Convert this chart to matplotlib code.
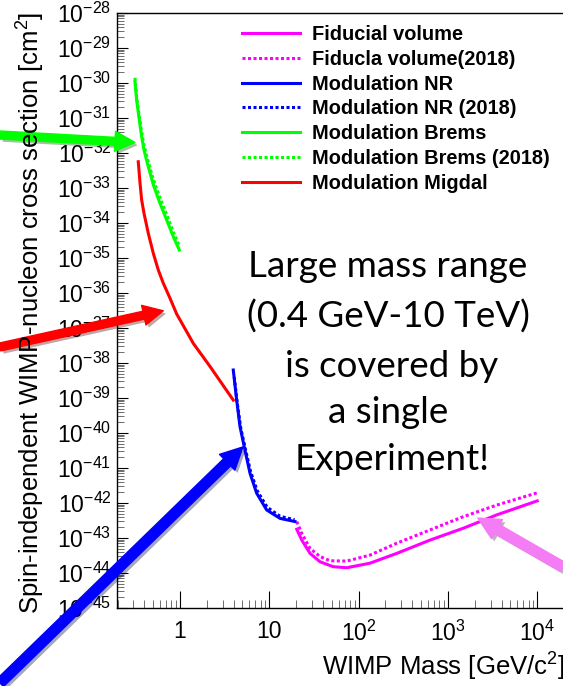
import matplotlib
matplotlib.use("Agg")
import matplotlib.pyplot as plt
import matplotlib.ticker as mticker
import matplotlib.patheffects as pe
import numpy as np

plt.rcParams['font.family'] = ['Liberation Sans', 'DejaVu Sans']
plt.rcParams['mathtext.fontset'] = 'custom'
plt.rcParams['mathtext.rm'] = 'Liberation Sans'
plt.rcParams['mathtext.it'] = 'Liberation Sans:italic'
plt.rcParams['mathtext.bf'] = 'Liberation Sans:bold'

# Exclusion limits: WIMP mass [GeV/c^2] vs log10 of cross section [cm^2]
brems_mass = [0.313, 0.327, 0.350, 0.372, 0.395, 0.441, 0.503, 0.597, 0.709, 0.841, 0.982]
brems_logxs = [-29.96, -30.49, -31.06, -31.53, -31.91, -32.39, -32.91, -33.44, -33.91, -34.39, -34.77]
brems18_mass = [0.313, 0.327, 0.350, 0.372, 0.395, 0.441, 0.503, 0.597, 0.709, 0.841, 0.995]
brems18_logxs = [-29.85, -30.40, -30.95, -31.40, -31.78, -32.25, -32.76, -33.28, -33.76, -34.26, -34.68]

migdal_mass = [0.341, 0.357, 0.372, 0.395, 0.441, 0.503, 0.571, 0.650, 0.773, 0.918, 1.41, 2.17, 3.95]
migdal_logxs = [-32.25, -32.87, -33.34, -33.72, -34.29, -34.87, -35.34, -35.72, -36.15, -36.60, -37.44, -38.10, -39.06]

nr_mass = [3.95, 4.31, 4.70, 5.34, 6.08, 7.22, 9.35, 13.2, 19.4]
nr_logxs = [-38.20, -39.06, -39.82, -40.49, -41.15, -41.72, -42.20, -42.44, -42.53]
nr18_mass = [4.05, 4.38, 4.78, 5.42, 6.17, 7.32, 9.45, 13.2, 19.2]
nr18_logxs = [-38.40, -39.15, -39.85, -40.48, -41.10, -41.65, -42.12, -42.38, -42.48]

fid_mass = [20.3, 23.1, 28.6, 37.0, 52.0, 73.5, 134, 267, 630, 1490, 3520, 10000]
fid_logxs = [-42.75, -43.06, -43.44, -43.68, -43.82, -43.85, -43.72, -43.44, -43.06, -42.72, -42.34, -41.94]
fid18_mass = [20.3, 23.1, 28.6, 37.0, 47.9, 73.5, 134, 267, 630, 1490, 3520, 10000]
fid18_logxs = [-42.53, -42.87, -43.30, -43.53, -43.65, -43.66, -43.49, -43.15, -42.77, -42.39, -42.06, -41.71]

fig = plt.figure(figsize=(5.63, 6.86), dpi=100)
W, H = 563.0, 686.0
# right spine sits past the figure edge
ax = fig.add_axes([117 / W, (H - 608) / H, (600 - 117) / W, (608 - 13) / H])

xmin = 10 ** ((117 - 180) / 89.3)
xmax = 10 ** ((600 - 180) / 89.3)

lw = 2.2
dot = (0, (1, 0.8))
series = [
    (fid_mass, fid_logxs, '#ff00ff', '-', 'Fiducial volume'),
    (fid18_mass, fid18_logxs, '#ff00ff', dot, 'Fiducla volume(2018)'),
    (nr_mass, nr_logxs, '#0000ff', '-', 'Modulation NR'),
    (nr18_mass, nr18_logxs, '#0000ff', dot, 'Modulation NR (2018)'),
    (brems_mass, brems_logxs, '#00ff00', '-', 'Modulation Brems'),
    (brems18_mass, brems18_logxs, '#00ff00', dot, 'Modulation Brems (2018)'),
    (migdal_mass, migdal_logxs, '#ff0000', '-', 'Modulation Migdal'),
]
for m, lx, c, ls, lab in series:
    ax.plot(m, 10.0 ** np.array(lx), color=c, linestyle=ls, lw=lw, label=lab)

ax.set_xscale('log')
ax.set_yscale('log')
ax.set_xlim(xmin, xmax)
ax.set_ylim(1e-45, 1e-28)

ax.spines['right'].set_visible(False)

def xfmt(v, pos):
    e = int(round(np.log10(v)))
    if e == 0:
        return '1'
    if e == 1:
        return '10'
    return r'$\mathrm{10^{%d}}$' % e

def yfmt(v, pos):
    e = int(round(np.log10(v)))
    return r'$\mathrm{10^{%d}}$' % e

ax.xaxis.set_major_locator(mticker.LogLocator(base=10, numticks=20))
ax.xaxis.set_minor_locator(mticker.LogLocator(base=10, subs=np.arange(2, 10), numticks=20))
ax.xaxis.set_major_formatter(mticker.FuncFormatter(xfmt))
ax.xaxis.set_minor_formatter(mticker.NullFormatter())
ax.yaxis.set_major_locator(mticker.LogLocator(base=10, numticks=30))
ax.yaxis.set_minor_locator(mticker.LogLocator(base=10, subs=np.arange(2, 10), numticks=30))
ax.yaxis.set_major_formatter(mticker.FuncFormatter(yfmt))
ax.yaxis.set_minor_formatter(mticker.NullFormatter())

ax.tick_params(axis='both', which='both', direction='in', top=False, right=False)
ax.tick_params(axis='x', which='major', length=12, width=0.8, labelsize=16.5, pad=9)
ax.tick_params(axis='x', which='minor', length=6, width=0.6, color='#555555')
ax.tick_params(axis='y', which='major', length=8, width=0.8, labelsize=16.5, pad=4)
ax.tick_params(axis='y', which='minor', length=5, width=0.6, color='#555555')
for s in ax.spines.values():
    s.set_linewidth(1.0)

fig.text(31 / W, 1 - 313 / H, r'Spin-independent WIMP-nucleon cross section [cm$^{2}$]',
         rotation=90, ha='center', va='center', fontsize=18.5)
fig.text(565 / W, 1 - 667 / H, r'WIMP Mass [GeV/c$^{2}$]',
         ha='right', va='center', fontsize=18.5)

leg = ax.legend(loc='upper left', bbox_to_anchor=(242 / W, 1 - 25 / H),
                bbox_transform=fig.transFigure, frameon=False,
                prop={'family': 'Liberation Sans', 'weight': 'bold', 'size': 14.4},
                handlelength=2.9, handletextpad=0.6, labelspacing=0.29,
                borderpad=0, borderaxespad=0)

# callout text
callout = ['Large mass range', '(0.4 GeV-10 TeV)', 'is covered by', 'a single', 'Experiment!']
cx = [388, 388, 392, 388, 392]
cy = [277, 328, 377, 423, 470]
for t, x, y in zip(callout, cx, cy):
    fig.text(x / W, 1 - y / H, t, ha='center', va='baseline', fontsize=26.5,
             family=['Lato', 'DejaVu Sans'])

# pointer arrows: tip on the curve, tail at the figure edge
shadow = [pe.SimplePatchShadow(offset=(2, -2), alpha=0.35), pe.Normal()]
arrows = [
    ((0.313, 2.0e-32), (0, 135), '#00ff00', 8, 20, 20),
    ((0.650, 3.1e-37), (0, 347), '#ff0000', 8, 20, 20),
    ((5.07, 4.0e-41), (0, 683), '#0000ff', 10, 22, 22),
    ((2170, 3.7e-43), (563, 567), '#f47cf4', 10, 22, 22),
]
for tip, tail, c, tw, hw, hl in arrows:
    ax.annotate('', xy=tip, xycoords='data',
                xytext=(tail[0] / W, 1 - tail[1] / H), textcoords='figure fraction',
                annotation_clip=False, zorder=10,
                arrowprops=dict(arrowstyle='simple,head_length=%g,head_width=%g,tail_width=%g'
                                % (hl, hw, tw),
                                mutation_scale=0.72, color=c, shrinkA=0, shrinkB=0,
                                path_effects=shadow))

fig.savefig('out.png', dpi=100)
